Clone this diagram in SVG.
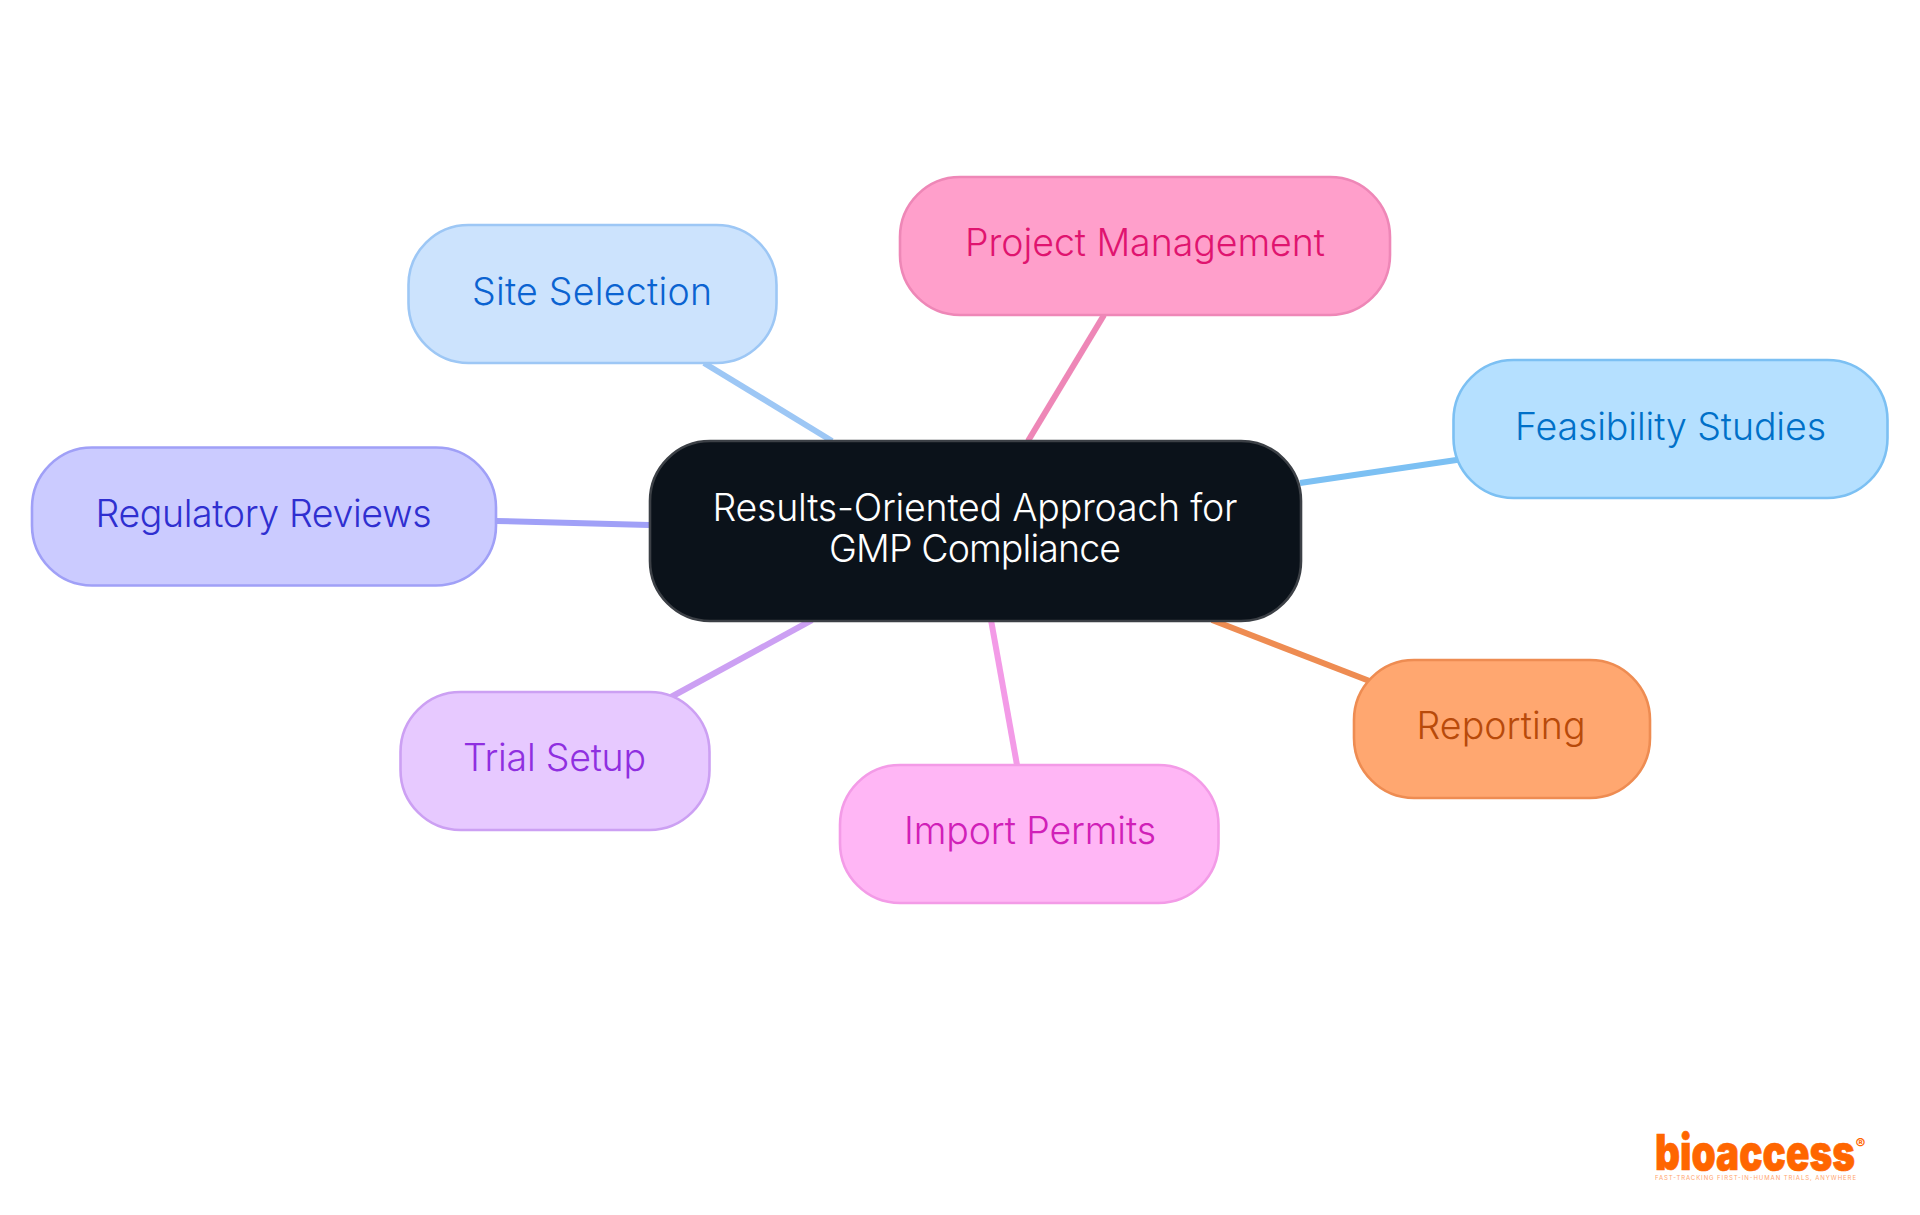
<svg xmlns="http://www.w3.org/2000/svg" width="1920" height="1215" viewBox="0 0 1920 1215">
<style>
.n rect{stroke-width:2.6}
.n text{font-family:"Inter","Noto Sans",sans-serif;font-size:37.5px;text-anchor:middle;font-weight:350}
#connectors line{stroke-width:6;fill:none}
</style>
<rect width="1920" height="1215" fill="#ffffff"/>
<g id="connectors">
<line x1="704" y1="363" x2="832" y2="441" stroke="#9dc7f5"/>
<line x1="1104" y1="315" x2="1028" y2="441" stroke="#ee87b7"/>
<line x1="1300" y1="483" x2="1470" y2="458" stroke="#7cc0f3"/>
<line x1="496" y1="521" x2="649" y2="525" stroke="#a0a0f7"/>
<line x1="660" y1="703" x2="812" y2="620" stroke="#cca0f3"/>
<line x1="1017" y1="765" x2="991" y2="620" stroke="#f39be7"/>
<line x1="1385" y1="687" x2="1212" y2="620" stroke="#ee8c52"/>
</g>
<g id="node-center" class="n"><rect x="650" y="441" width="651" height="180" rx="60" ry="60" fill="#0b121a" stroke="#3c4046"/>
<text x="975" y="520.7" fill="#ffffff" textLength="525">Results-Oriented Approach for</text><text x="975" y="561.7" fill="#ffffff" textLength="292">GMP Compliance</text></g>
<g id="node-site" class="n"><rect x="408.5" y="225" width="368" height="138" rx="60" ry="60" fill="#cce3fd" stroke="#9dc7f5"/>
<text x="592" y="304.7" fill="#0b63d1" textLength="240">Site Selection</text></g>
<g id="node-project" class="n"><rect x="900" y="177" width="490" height="138" rx="60" ry="60" fill="#ff9fcb" stroke="#ee87b7"/>
<text x="1145" y="256.3" fill="#e0146f" textLength="360">Project Management</text></g>
<g id="node-feasibility" class="n"><rect x="1453.5" y="360" width="434" height="138" rx="60" ry="60" fill="#b5e0ff" stroke="#7cc0f3"/>
<text x="1670.5" y="439.7" fill="#0070c8" textLength="311">Feasibility Studies</text></g>
<g id="node-regulatory" class="n"><rect x="32" y="447.5" width="464" height="138" rx="60" ry="60" fill="#cbcbff" stroke="#a0a0f7"/>
<text x="263.5" y="526.7" fill="#2f2fd0" textLength="336">Regulatory Reviews</text></g>
<g id="node-trial" class="n"><rect x="400.5" y="692" width="309" height="138" rx="60" ry="60" fill="#e7c9ff" stroke="#cca0f3"/>
<text x="554.5" y="770.7" fill="#8f2fe0" textLength="183">Trial Setup</text></g>
<g id="node-import" class="n"><rect x="840" y="765" width="378.5" height="138" rx="60" ry="60" fill="#ffb6f5" stroke="#f39be7"/>
<text x="1030" y="844" fill="#d020b8" textLength="252">Import Permits</text></g>
<g id="node-reporting" class="n"><rect x="1354" y="660" width="296" height="138" rx="60" ry="60" fill="#ffa770" stroke="#ee8c52"/>
<text x="1501" y="738.7" fill="#b84a0a" textLength="169">Reporting</text></g>
<g id="logo" font-family="Inter,sans-serif" fill="#ff6600">
<text x="1655" y="1170" font-size="49" font-weight="900" textLength="200" lengthAdjust="spacingAndGlyphs" stroke="#ff6600" stroke-width="0.7">bioaccess</text>
<text x="1855.5" y="1149" font-size="15" font-weight="700">®</text>
<text x="1655" y="1180" font-size="6" textLength="201" opacity="0.6">FAST-TRACKING FIRST-IN-HUMAN TRIALS, ANYWHERE</text>
</g>
</svg>
